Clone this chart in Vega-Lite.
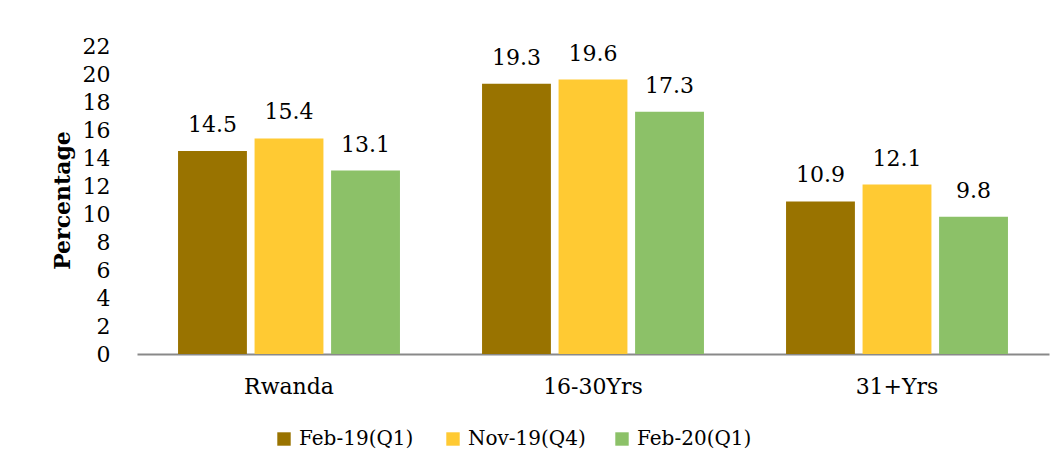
{
  "$schema": "https://vega.github.io/schema/vega-lite/v6.json",
  "width": 912,
  "height": 308,
  "autosize": {"type": "none"},
  "padding": {"left": 137, "top": 46, "right": 15, "bottom": 116},
  "background": "white",
  "data": {
    "values": [
      {"group": "Rwanda", "period": "Feb-19(Q1)", "value": 14.5},
      {"group": "Rwanda", "period": "Nov-19(Q4)", "value": 15.4},
      {"group": "Rwanda", "period": "Feb-20(Q1)", "value": 13.1},
      {"group": "16-30Yrs", "period": "Feb-19(Q1)", "value": 19.3},
      {"group": "16-30Yrs", "period": "Nov-19(Q4)", "value": 19.6},
      {"group": "16-30Yrs", "period": "Feb-20(Q1)", "value": 17.3},
      {"group": "31+Yrs", "period": "Feb-19(Q1)", "value": 10.9},
      {"group": "31+Yrs", "period": "Nov-19(Q4)", "value": 12.1},
      {"group": "31+Yrs", "period": "Feb-20(Q1)", "value": 9.8}
    ]
  },
  "encoding": {
    "x": {
      "field": "group", "type": "nominal", "sort": ["Rwanda", "16-30Yrs", "31+Yrs"],
      "scale": {"paddingInner": 0.27, "paddingOuter": 0.135},
      "axis": {"title": null, "labelAngle": 0, "ticks": false, "domainColor": "#898989", "domainWidth": 2,
               "labelPadding": 22, "labelFontSize": 22, "labelFont": "DejaVu Serif", "labelColor": "black"}
    },
    "xOffset": {"field": "period", "type": "nominal", "sort": ["Feb-19(Q1)", "Nov-19(Q4)", "Feb-20(Q1)"],
      "scale": {"paddingInner": 0.1, "paddingOuter": 0}},
    "y": {
      "field": "value", "type": "quantitative",
      "scale": {"domain": [0, 22], "nice": false},
      "axis": {"title": "Percentage", "values": [0,2,4,6,8,10,12,14,16,18,20,22], "grid": false, "domain": false, "ticks": false,
               "labelPadding": 27, "labelFontSize": 22, "labelFont": "DejaVu Serif", "labelColor": "black",
               "titleFont": "DejaVu Serif", "titleFontSize": 22, "titleFontWeight": "bold", "titleColor": "black", "titlePadding": 8}
    }
  },
  "layer": [
    {
      "mark": {"type": "bar"},
      "encoding": {
        "color": {
          "field": "period", "type": "nominal",
          "scale": {"domain": ["Feb-19(Q1)", "Nov-19(Q4)", "Feb-20(Q1)"], "range": ["#997300", "#FFCA33", "#8CC168"]},
          "legend": {"title": null, "orient": "none", "direction": "horizontal", "columns": 3, "gridAlign": "all",
                     "legendX": 137, "legendY": 383, "symbolType": "square", "symbolSize": 180, "symbolStrokeWidth": 0,
                     "labelFont": "DejaVu Serif", "labelFontSize": 20, "labelColor": "black", "labelOffset": 5,
                     "columnPadding": 26}
        }
      }
    },
    {
      "mark": {"type": "text", "baseline": "alphabetic", "dy": -19, "font": "DejaVu Serif", "fontSize": 22, "color": "black"},
      "encoding": {"text": {"field": "value", "type": "quantitative", "format": ".1f"}}
    }
  ],
  "config": {"view": {"stroke": null}}
}
